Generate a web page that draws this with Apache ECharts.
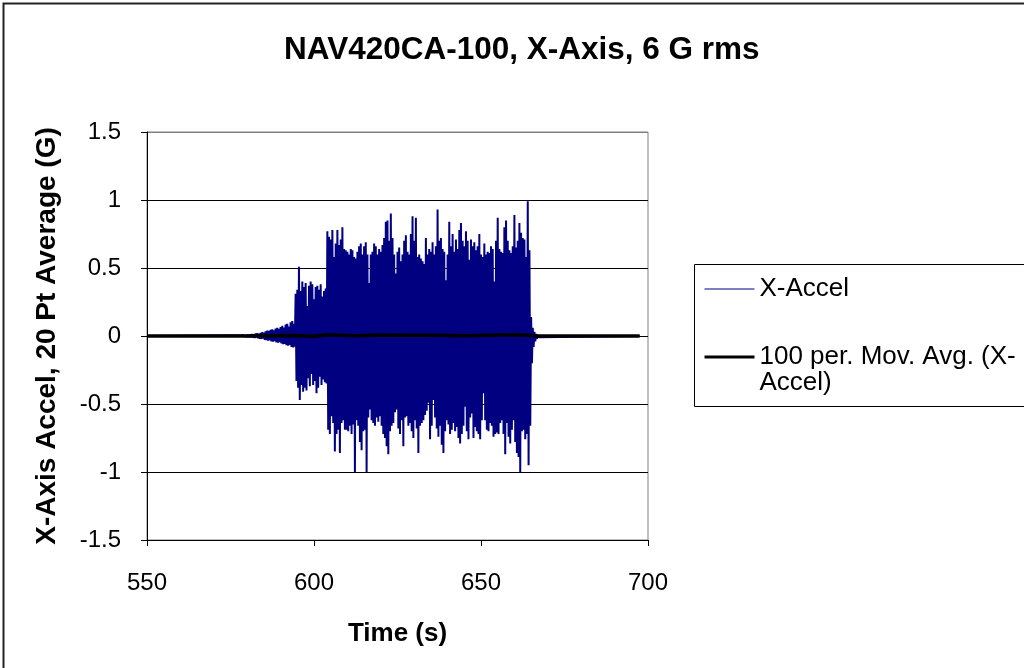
<!DOCTYPE html>
<html>
<head>
<meta charset="utf-8">
<script src="https://cdn.jsdelivr.net/npm/echarts@6/dist/echarts.min.js"></script>
<style>
html,body{margin:0;padding:0;background:#fff;}
#chart{width:1024px;height:668px;}
</style>
</head>
<body>
<div id="chart"></div>
<script>
// ---- Data ----
const titleText = 'NAV420CA-100, X-Axis, 6 G rms';
const xAxisName = 'Time (s)';
const yAxisName = 'X-Axis Accel, 20 Pt Average (G)';
const seriesNames = ['X-Accel', '100 per. Mov. Avg. (X-Accel)'];
const legendLabels = ['X-Accel', '\n100 per. Mov. Avg. (X-\nAccel)'];

const xRange = [550, 700, 50];
const yRange = [-1.5, 1.5, 0.5];

// recording extent (signal is ~0 outside the active window)
const recordStart = 550;
const recordEnd = 697.5;

// active window sampled every 0.5 s from 579 s: peak-high and peak-low of each half second
const sampleStart = 579;
const sampleStep = 0.5;
const upperPeaks = [
  0.005,0.008,0.01,0.008,0.012,0.015,0.012,0.018,0.02,0.017,0.022,0.028,0.025,0.035,0.04,0.038,
  0.045,0.05,0.042,0.055,0.06,0.052,0.065,0.075,0.062,0.085,0.09,0.07,0.1,0.11,0.09,
  0.31,0.34,0.51,0.33,0.40,0.36,0.39,0.22,0.37,0.40,0.38,0.27,0.36,0.37,0.34,0.38,0.29,0.33,0.35,
  0.77,0.73,0.71,0.78,0.58,0.68,0.78,0.67,0.71,0.80,0.64,
  0.63,0.62,0.6,0.64,0.63,0.58,0.57,0.62,0.66,0.68,0.6,0.66,0.69,0.6,0.39,0.6,0.62,0.68,0.66,0.6,
  0.64,0.62,0.67,0.72,0.84,0.85,0.7,0.9,0.72,0.6,0.46,0.62,0.65,
  0.55,0.6,0.7,0.74,0.62,0.6,0.75,0.88,0.7,0.87,0.58,0.6,0.57,0.55,0.53,0.72,0.6,0.64,0.62,0.69,
  0.6,0.66,0.93,0.7,0.72,0.64,0.62,0.41,0.6,0.84,0.66,0.75,0.62,0.71,0.64,0.78,
  0.83,0.7,0.66,0.77,0.7,0.56,0.71,0.66,0.69,0.63,0.66,0.75,0.6,0.58,0.68,0.6,0.62,0.61,0.66,0.64,
  0.4,0.7,0.87,0.64,0.62,0.61,0.8,
  0.85,0.7,0.63,0.61,0.66,0.89,0.65,0.7,0.83,0.76,0.72,0.71,0.58,0.99,0.63,
  0.14,0.06,0.03,0.015,0.008
];
const lowerPeaks = [
  -0.004,-0.007,-0.009,-0.01,-0.008,-0.013,-0.015,-0.012,-0.018,-0.02,-0.022,-0.019,-0.028,-0.03,-0.035,-0.032,
  -0.04,-0.042,-0.038,-0.048,-0.05,-0.045,-0.055,-0.06,-0.058,-0.068,-0.072,-0.065,-0.08,-0.085,-0.078,
  -0.33,-0.38,-0.47,-0.36,-0.41,-0.38,-0.40,-0.31,-0.37,-0.28,-0.36,-0.33,-0.42,-0.38,-0.30,-0.36,-0.32,-0.34,-0.35,
  -0.69,-0.72,-0.59,-0.64,-0.85,-0.72,-0.69,-0.86,-0.64,-0.62,-0.69,
  -0.69,-0.7,-0.66,-0.72,-0.65,-1.0,-0.62,-0.66,-0.78,-0.84,-0.7,-0.69,-1.0,-0.6,-0.54,-0.62,-0.64,-0.66,-0.6,-0.63,
  -0.59,-0.66,-0.72,-0.75,-0.81,-0.87,-0.7,-0.66,-0.64,-0.56,-0.54,-0.68,-0.72,
  -0.62,-0.81,-0.6,-0.59,-0.66,-0.64,-0.7,-0.75,-0.62,-0.68,-0.86,-0.66,-0.64,-0.62,-0.58,-0.55,-0.49,-0.76,-0.66,-0.47,
  -0.6,-0.68,-0.74,-0.66,-0.8,-0.86,-0.7,-0.62,-0.65,-0.72,-0.69,-0.64,-0.7,-0.67,-0.75,-0.79,
  -0.72,-0.66,-0.52,-0.7,-0.76,-0.6,-0.57,-0.75,-0.67,-0.7,-0.72,-0.76,-0.62,-0.42,-0.62,-0.69,-0.7,-0.64,-0.66,-0.74,
  -0.72,-0.71,-0.72,-0.64,-0.62,-0.72,-0.87,
  -0.64,-0.74,-0.79,-0.69,-0.62,-0.78,-0.86,-0.89,-1.0,-0.7,-0.69,-0.76,-0.72,-0.95,-0.66,
  -0.2,-0.08,-0.04,-0.02,-0.01
];

// 100-point moving average (stays near zero)
const movAvgTimes  = [550, 579, 594, 600, 604, 612, 620, 628, 636, 644, 652, 660, 664, 667, 697.5];
const movAvgValues = [0, 0, 0.003, -0.002, 0.01, 0.002, 0.008, 0.005, 0.006, 0.002, 0.006, 0.01, 0.005, 0, 0];

// ---- Build series data ----
const accelData = [[recordStart, 0]];
for (let i = 0; i < upperPeaks.length; i++) {
  const t = sampleStart + i * sampleStep;
  accelData.push([t, upperPeaks[i]]);
  accelData.push([t + sampleStep / 2, lowerPeaks[i]]);
}
accelData.push([recordEnd, 0]);
const movAvgData = movAvgTimes.map((t, i) => [t, movAvgValues[i]]);

const FONT = '"Liberation Sans", Arial, sans-serif';

const chart = echarts.init(document.getElementById('chart'), null, {renderer: 'canvas'});
chart.setOption({
  animation: false,
  backgroundColor: '#fff',
  title: {
    text: titleText,
    left: 284,
    top: 34,
    padding: 0,
    textStyle: {fontFamily: FONT, fontSize: 31.5, fontWeight: 'bold', color: '#000'}
  },
  graphic: [
    {type: 'rect', z: -10, silent: true,
     shape: {x: 3.5, y: 3.5, width: 1100, height: 700},
     style: {fill: 'none', stroke: '#222', lineWidth: 2}},
    {type: 'rect', z: -10, silent: true,
     shape: {x: 694.5, y: 264.5, width: 400, height: 142},
     style: {fill: 'none', stroke: '#000', lineWidth: 1}}
  ],
  legend: {
    orient: 'vertical',
    left: 703,
    top: 276,
    padding: 0,
    itemGap: 16,
    itemWidth: 50,
    itemHeight: 14,
    selectedMode: false,
    itemStyle: {opacity: 0},
    formatter: function (name) { return legendLabels[seriesNames.indexOf(name)]; },
    textStyle: {fontFamily: FONT, fontSize: 26, lineHeight: 26, color: '#000'},
    data: [
      {name: seriesNames[0], lineStyle: {width: 1, color: '#000080'}},
      {name: seriesNames[1], lineStyle: {width: 3, color: '#000'}}
    ]
  },
  grid: {
    left: 147, right: 376, top: 132, bottom: 128,
    show: true, backgroundColor: '#fff', borderColor: '#808080', borderWidth: 1,
    outerBoundsMode: 'none'
  },
  xAxis: {
    type: 'value',
    min: xRange[0], max: xRange[1], interval: xRange[2],
    name: xAxisName,
    nameLocation: 'middle',
    nameGap: 81,
    nameTextStyle: {fontFamily: FONT, fontSize: 26, fontWeight: 'bold', color: '#000'},
    axisLine: {show: true, onZero: false, lineStyle: {color: '#000', width: 1}},
    axisTick: {show: true, inside: false, length: 6, lineStyle: {color: '#000'}},
    axisLabel: {fontFamily: FONT, fontSize: 24, color: '#000', margin: 31},
    splitLine: {show: false}
  },
  yAxis: {
    type: 'value',
    min: yRange[0], max: yRange[1], interval: yRange[2],
    name: yAxisName,
    nameLocation: 'middle',
    nameGap: 86,
    nameRotate: 90,
    nameTextStyle: {fontFamily: FONT, fontSize: 28, fontWeight: 'bold', color: '#000'},
    axisLine: {show: true, onZero: false, lineStyle: {color: '#000', width: 1}},
    axisTick: {show: true, inside: false, length: 6, lineStyle: {color: '#000'}},
    axisLabel: {fontFamily: FONT, fontSize: 24, color: '#000', margin: 26},
    splitLine: {show: true, lineStyle: {color: ['#000', '#000', '#000', '#000', '#000', '#000', '#808080'], width: 1}}
  },
  series: [
    {
      name: seriesNames[0],
      type: 'line',
      data: accelData,
      showSymbol: false,
      symbol: 'none',
      color: '#000080',
      lineStyle: {color: '#000080', width: 2},
      z: 2
    },
    {
      name: seriesNames[1],
      type: 'line',
      data: movAvgData,
      showSymbol: false,
      symbol: 'none',
      color: '#000',
      lineStyle: {color: '#000', width: 3.5},
      z: 3
    }
  ]
});
</script>
</body>
</html>
